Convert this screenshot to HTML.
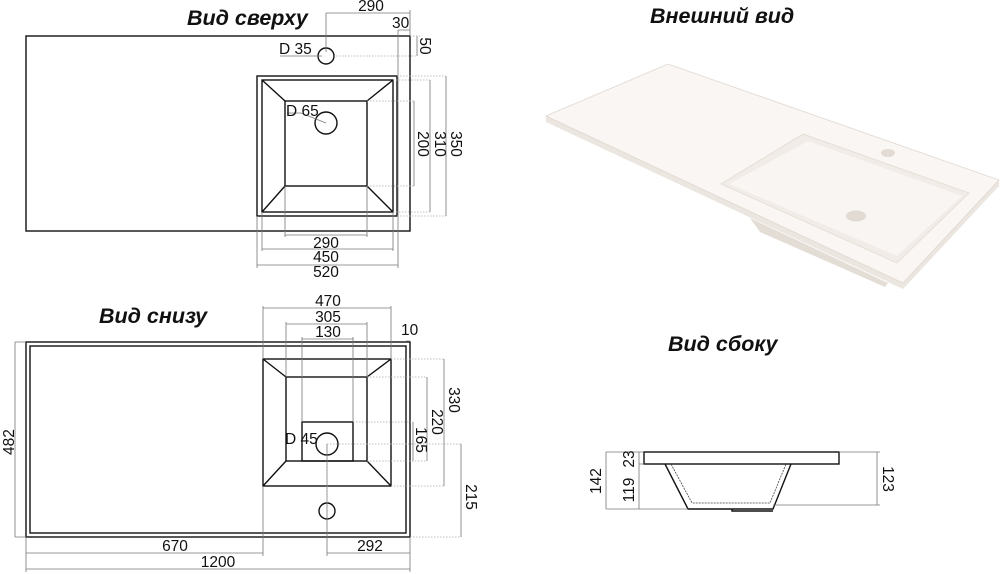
<!DOCTYPE html>
<html><head><meta charset="utf-8"><style>
html,body{margin:0;padding:0;background:#fff;}
svg{display:block;}
text{font-family:"Liberation Sans",Arial,sans-serif;fill:#111;}
.t{font-size:21.5px;font-weight:bold;font-style:italic;}
.n{font-size:15.5px;}
.o{fill:none;stroke:#111;stroke-width:1.4;}
.d{fill:none;stroke:#777;stroke-width:0.8;}
.x{fill:none;stroke:#aaa;stroke-width:0.7;stroke-dasharray:1.5,1.5;}
</style></head><body>
<svg width="1000" height="574" viewBox="0 0 1000 574" xmlns="http://www.w3.org/2000/svg">
<!-- TOP VIEW -->
<text class="t" x="187" y="25">Вид сверху</text>
<rect class="o" x="26" y="36" width="384" height="195"/>
<rect class="o" x="257" y="76" width="140" height="140"/>
<rect class="o" x="262" y="80" width="131" height="132"/>
<rect class="o" x="285" y="101" width="82" height="85"/>
<path class="o" d="M262 80L285 101M393 80L367 101M262 212L285 186M393 212L367 186"/>
<circle class="o" cx="326" cy="56" r="8"/>
<circle class="o" cx="326" cy="123" r="11"/>
<path class="d" d="M280 56H322M287 113H301L326 123"/>
<text class="n" x="279" y="54">D 35</text>
<text class="n" x="286" y="116">D 65</text>
<path class="d" d="M326 13H410M326 13V52M410 10V36M398 30H410M398 30V216M417 36V56M414 101V186M430 80V212M446 76V216"/>
<path class="x" d="M336 56H417M367 101H414M367 186H414M393 80H430M393 212H430M397 76H446M397 216H446M410 36H420"/>
<text class="n" x="371" y="11" text-anchor="middle">290</text>
<text class="n" x="392" y="28">30</text>
<text class="n" transform="translate(420,46) rotate(90)" text-anchor="middle">50</text>
<text class="n" transform="translate(418,144) rotate(90)" text-anchor="middle">200</text>
<text class="n" transform="translate(435,144) rotate(90)" text-anchor="middle">310</text>
<text class="n" transform="translate(451,144) rotate(90)" text-anchor="middle">350</text>
<path class="d" d="M285 235H367M262 249H393M257 265H398M285 186V237M367 186V237M262 212V251M393 212V251M257 216V268M398 216V268"/>
<text class="n" x="326" y="248" text-anchor="middle">290</text>
<text class="n" x="326" y="262" text-anchor="middle">450</text>
<text class="n" x="326" y="277" text-anchor="middle">520</text>

<!-- BOTTOM VIEW -->
<text class="t" x="99" y="323">Вид снизу</text>
<rect class="o" x="26" y="342" width="384" height="195"/>
<rect class="o" x="30" y="346" width="376" height="187"/>
<rect class="o" x="263" y="359" width="128" height="127"/>
<rect class="o" x="286" y="377" width="81" height="84"/>
<path class="o" d="M263 359L286 377M391 359L367 377M263 486L286 461M391 486L367 461"/>
<rect class="o" x="302" y="422" width="51" height="39"/>
<circle class="o" cx="327" cy="444" r="11"/>
<circle class="o" cx="327" cy="511" r="8"/>
<text class="n" x="285" y="444">D 45</text>
<path class="d" d="M263 308H391M286 324H367M302 339H353M406 341H410M263 306V359M391 306V359M286 322V377M367 322V377M302 337V422M353 337V422M15 342V537M444 359V486M427 377V461M413 422V461M461 444V537M26 553H263M327 553H410M26 569H410M263 486V556M327 444V556M410 537V572M26 537V572M15 342H26M15 537H26"/>
<path class="x" d="M391 359H444M391 486H444M367 377H427M367 461H427M353 422H413M327 444H461M410 537H461M327 462V503"/>
<text class="n" x="328" y="306" text-anchor="middle">470</text>
<text class="n" x="328" y="322" text-anchor="middle">305</text>
<text class="n" x="328" y="337" text-anchor="middle">130</text>
<text class="n" x="401" y="335">10</text>
<text class="n" transform="translate(14,442) rotate(-90)" text-anchor="middle">482</text>
<text class="n" transform="translate(449,400) rotate(90)" text-anchor="middle">330</text>
<text class="n" transform="translate(432,422) rotate(90)" text-anchor="middle">220</text>
<text class="n" transform="translate(416,440) rotate(90)" text-anchor="middle">165</text>
<text class="n" transform="translate(466,497) rotate(90)" text-anchor="middle">215</text>
<text class="n" x="175" y="551" text-anchor="middle">670</text>
<text class="n" x="370" y="551" text-anchor="middle">292</text>
<text class="n" x="218" y="567" text-anchor="middle">1200</text>

<!-- 3D VIEW -->
<text class="t" x="650" y="23">Внешний вид</text>
<polygon points="750,218 760,232 885,287 888,283" fill="#e4ddd6"/>
<polygon points="546,116 546,122 903,289 999,186 999,180 903,283" fill="#ece6e0"/>
<polygon points="546,116 668,64 999,180 903,283" fill="#f9f6f3" stroke="#e0d8d0" stroke-width="0.8"/>
<polygon points="721,184 803,134 969,193 897,263" fill="#f1ece7" stroke="#e3dcd4" stroke-width="0.8"/>
<polygon points="729,184 808,141 962,196 897,256" fill="#f8f5f2"/>
<ellipse cx="888" cy="153" rx="7" ry="4" fill="#e2dbd3"/>
<ellipse cx="856" cy="216" rx="10" ry="5.5" fill="#e2dbd3"/>

<!-- SIDE VIEW -->
<text class="t" x="668" y="351">Вид сбоку</text>
<rect class="o" x="644" y="452" width="195" height="12"/>
<path class="o" d="M665 464L688 509H773L791 464"/>
<path d="M671 464L692 503H770L786 464" fill="none" stroke="#444" stroke-width="0.8" stroke-dasharray="2,1"/>
<path class="o" d="M732 509V511H773"/>
<path class="d" d="M606 452V509M639 452V509M877 452V505M606 452H644M606 509H688M639 464H644M839 452H880M773 505H880"/>
<text class="n" transform="translate(601,481) rotate(-90)" text-anchor="middle">142</text>
<text class="n" transform="translate(634,459) rotate(-90)" text-anchor="middle">23</text>
<text class="n" transform="translate(634,490) rotate(-90)" text-anchor="middle">119</text>
<text class="n" transform="translate(883,479) rotate(90)" text-anchor="middle">123</text>
</svg>
</body></html>
